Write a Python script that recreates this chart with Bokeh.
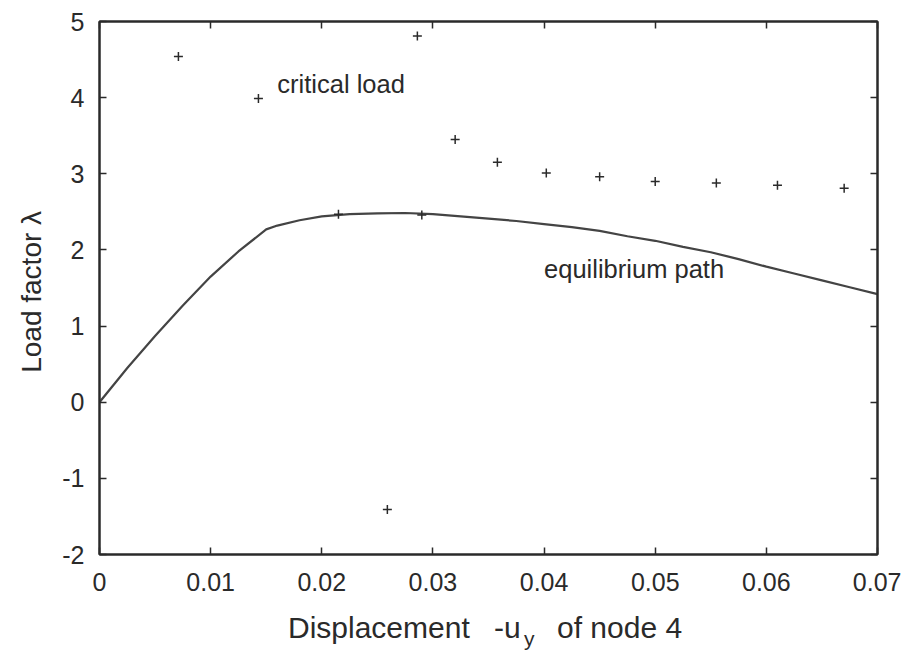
from bokeh.plotting import figure
from bokeh.models import Range1d, LinearAxis, FixedTicker, Label, Div
from bokeh.layouts import column
from bokeh.embed import file_html
from bokeh.resources import INLINE

# equilibrium path
path_x = [0.0, 0.0025, 0.005, 0.0075, 0.01, 0.0125, 0.015, 0.016, 0.018, 0.02, 0.0225,
          0.025, 0.0275, 0.03, 0.0325, 0.035, 0.0375, 0.04, 0.0425, 0.045, 0.0475,
          0.05, 0.0525, 0.055, 0.0575, 0.06, 0.0625, 0.065, 0.0675, 0.07]
path_y = [0.0, 0.45, 0.87, 1.27, 1.65, 1.98, 2.27, 2.32, 2.39, 2.44, 2.47,
          2.48, 2.485, 2.47, 2.44, 2.41, 2.38, 2.34, 2.30, 2.25, 2.18,
          2.12, 2.04, 1.97, 1.88, 1.78, 1.69, 1.60, 1.51, 1.42]

# critical load points
crit_x = [0.0071, 0.0143, 0.0215, 0.0259, 0.0286, 0.029, 0.032, 0.0358, 0.0402,
          0.045, 0.050, 0.0555, 0.061, 0.067]
crit_y = [4.54, 3.99, 2.47, -1.41, 4.81, 2.46, 3.45, 3.15, 3.01,
          2.96, 2.90, 2.88, 2.85, 2.81]

x_ticks = [0.0, 0.01, 0.02, 0.03, 0.04, 0.05, 0.06, 0.07]
x_tick_labels = ["0", "0.01", "0.02", "0.03", "0.04", "0.05", "0.06", "0.07"]
y_ticks = [-2, -1, 0, 1, 2, 3, 4, 5]
y_tick_labels = ["-2", "-1", "0", "1", "2", "3", "4", "5"]

FONT = "Liberation Sans"
INK = "#2a2a2a"

p = figure(width=901, height=604, output_backend="svg", toolbar_location=None,
           x_range=Range1d(0, 0.07), y_range=Range1d(-2, 5),
           min_border_left=99, min_border_right=24, min_border_top=21,
           min_border_bottom=50)
p.background_fill_color = "white"
p.border_fill_color = "white"
p.grid.visible = False
p.outline_line_color = INK
p.outline_line_width = 2

def style_axis(ax, ticks, labels, show_labels=True):
    ax.ticker = FixedTicker(ticks=ticks)
    ax.major_tick_in = 7
    ax.major_tick_out = 0
    ax.minor_tick_line_color = None
    ax.axis_line_color = INK
    ax.axis_line_width = 2
    ax.major_tick_line_color = INK
    ax.major_tick_line_width = 1.5
    ax.major_label_text_font = FONT
    ax.major_label_text_color = INK
    if show_labels:
        ax.major_label_overrides = {t: l for t, l in zip(ticks, labels)}
        ax.major_label_text_font_size = "25px"
    else:
        ax.major_label_overrides = {t: "" for t in ticks}
        ax.major_label_standoff = 0

style_axis(p.xaxis[0], x_ticks, x_tick_labels)
p.xaxis[0].major_label_standoff = 18
style_axis(p.yaxis[0], y_ticks, y_tick_labels)
p.yaxis[0].major_label_standoff = 15
p.yaxis[0].axis_label = "Load factor  \u03bb"
p.yaxis[0].axis_label_text_font = FONT
p.yaxis[0].axis_label_text_font_size = "28px"
p.yaxis[0].axis_label_text_font_style = "normal"
p.yaxis[0].axis_label_text_color = INK
p.yaxis[0].axis_label_standoff = 12

top = LinearAxis()
style_axis(top, x_ticks, x_tick_labels, show_labels=False)
p.add_layout(top, "above")
right = LinearAxis()
style_axis(right, y_ticks, y_tick_labels, show_labels=False)
p.add_layout(right, "right")

p.line(path_x, path_y, line_color="#444444", line_width=2.2)
p.scatter(crit_x, crit_y, marker="cross", size=9, line_color=INK, line_width=1.5)

p.add_layout(Label(x=0.016, y=4.18, text="critical load", text_font=FONT,
                   text_font_size="25.5px", text_color=INK, text_baseline="middle"))
p.add_layout(Label(x=0.040, y=1.75, text="equilibrium path", text_font=FONT,
                   text_font_size="25.5px", text_color=INK, text_baseline="middle"))

xlabel = Div(
    text=('<div style="position:relative; width:901px; height:47px; '
          'font-family:\'Liberation Sans\'; font-size:30px; line-height:30px; '
          'color:#2a2a2a; white-space:nowrap;">'
          '<span style="position:absolute; left:288px; top:9px;">Displacement</span>'
          '<span style="position:absolute; left:494px; top:9px;">-u</span>'
          '<span style="position:absolute; left:524px; top:20px; font-size:21px;">y</span>'
          '<span style="position:absolute; left:557px; top:9px;">of node 4</span>'
          '</div>'),
    width=901, height=47, margin=(0, 0, 0, 0))

layout = column(p, xlabel, margin=(0, 0, 0, 0))

open("out.html", "w").write(file_html(layout, INLINE))
